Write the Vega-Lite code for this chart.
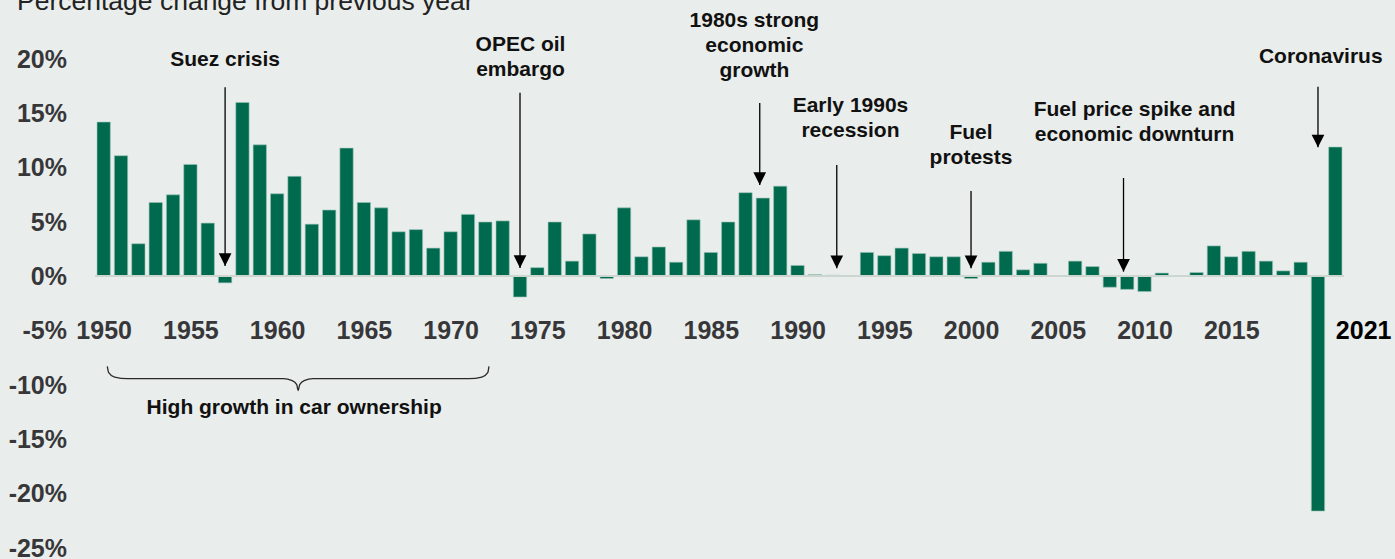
{
  "$schema": "https://vega.github.io/schema/vega-lite/v6.json",
  "width": 1259,
  "height": 489,
  "autosize": {"type": "none"},
  "padding": {"left": 90, "top": 59, "right": 46, "bottom": 11},
  "background": "#e9edeb",
  "title": {
    "text": "Percentage change from previous year",
    "anchor": "start",
    "frame": "group",
    "dx": -73,
    "dy": 26.5,
    "offset": 0,
    "fontSize": 26.5,
    "fontWeight": "normal",
    "font": "Liberation Sans",
    "color": "#222222",
    "baseline": "alphabetic"
  },
  "config": {"view": {"stroke": null}, "font": "Liberation Sans"},
  "datasets": {
    "bars": [
      {"year": 1950, "value": 14.2}, {"year": 1951, "value": 11.1}, {"year": 1952, "value": 3.0},
      {"year": 1953, "value": 6.8}, {"year": 1954, "value": 7.5}, {"year": 1955, "value": 10.3},
      {"year": 1956, "value": 4.9}, {"year": 1957, "value": -0.6}, {"year": 1958, "value": 16.0},
      {"year": 1959, "value": 12.1}, {"year": 1960, "value": 7.6}, {"year": 1961, "value": 9.2},
      {"year": 1962, "value": 4.8}, {"year": 1963, "value": 6.1}, {"year": 1964, "value": 11.8},
      {"year": 1965, "value": 6.8}, {"year": 1966, "value": 6.3}, {"year": 1967, "value": 4.1},
      {"year": 1968, "value": 4.3}, {"year": 1969, "value": 2.6}, {"year": 1970, "value": 4.1},
      {"year": 1971, "value": 5.7}, {"year": 1972, "value": 5.0}, {"year": 1973, "value": 5.1},
      {"year": 1974, "value": -1.9}, {"year": 1975, "value": 0.8}, {"year": 1976, "value": 5.0},
      {"year": 1977, "value": 1.4}, {"year": 1978, "value": 3.9}, {"year": 1979, "value": -0.2},
      {"year": 1980, "value": 6.3}, {"year": 1981, "value": 1.8}, {"year": 1982, "value": 2.7},
      {"year": 1983, "value": 1.3}, {"year": 1984, "value": 5.2}, {"year": 1985, "value": 2.2},
      {"year": 1986, "value": 5.0}, {"year": 1987, "value": 7.7}, {"year": 1988, "value": 7.2},
      {"year": 1989, "value": 8.3}, {"year": 1990, "value": 1.0}, {"year": 1991, "value": 0.15},
      {"year": 1992, "value": 0.1}, {"year": 1993, "value": 0.05}, {"year": 1994, "value": 2.2},
      {"year": 1995, "value": 1.9}, {"year": 1996, "value": 2.6}, {"year": 1997, "value": 2.1},
      {"year": 1998, "value": 1.8}, {"year": 1999, "value": 1.8}, {"year": 2000, "value": -0.2},
      {"year": 2001, "value": 1.3}, {"year": 2002, "value": 2.3}, {"year": 2003, "value": 0.6},
      {"year": 2004, "value": 1.2}, {"year": 2005, "value": 0.03}, {"year": 2006, "value": 1.4},
      {"year": 2007, "value": 0.9}, {"year": 2008, "value": -1.0}, {"year": 2009, "value": -1.2},
      {"year": 2010, "value": -1.4}, {"year": 2011, "value": 0.3}, {"year": 2012, "value": 0.03},
      {"year": 2013, "value": 0.35}, {"year": 2014, "value": 2.8}, {"year": 2015, "value": 1.8},
      {"year": 2016, "value": 2.3}, {"year": 2017, "value": 1.4}, {"year": 2018, "value": 0.5},
      {"year": 2019, "value": 1.3}, {"year": 2020, "value": -21.6}, {"year": 2021, "value": 11.9}
    ],
    "arrows": [
      {"year": 1957, "value": 17.4, "tip": 0.95},
      {"year": 1974, "value": 16.9, "tip": 0.77},
      {"year": 1987.82, "value": 15.95, "tip": 8.4},
      {"year": 1992.26, "value": 10.24, "tip": 0.74},
      {"year": 2000, "value": 7.85, "tip": 0.74},
      {"year": 2008.79, "value": 9.05, "tip": 0.43},
      {"year": 2020, "value": 17.45, "tip": 11.87}
    ],
    "annots": [
      {"label": "Suez crisis", "year": 1957.0, "value": 19.38},
      {"label": "OPEC oil\nembargo", "year": 1974.03, "value": 20.74},
      {"label": "1980s strong\neconomic\ngrowth", "year": 1987.51, "value": 22.97},
      {"label": "Early 1990s\nrecession", "year": 1993.05, "value": 15.12},
      {"label": "Fuel\nprotests", "year": 2000.0, "value": 12.6},
      {"label": "Fuel price spike and\neconomic downturn", "year": 2009.43, "value": 14.75},
      {"label": "Coronavirus", "year": 2020.16, "value": 19.59},
      {"label": "High growth in car ownership", "year": 1960.98, "value": -12.7}
    ],
    "brace": [
      {"year": 1950.21, "value": -8.29},
      {"year": 1950.29, "value": -8.87},
      {"year": 1950.63, "value": -9.28},
      {"year": 1951.37, "value": -9.42},
      {"year": 1960.35, "value": -9.42},
      {"year": 1960.87, "value": -9.6},
      {"year": 1961.13, "value": -9.97},
      {"year": 1961.21, "value": -10.52},
      {"year": 1961.3, "value": -9.97},
      {"year": 1961.56, "value": -9.6},
      {"year": 1962.07, "value": -9.42},
      {"year": 1971.05, "value": -9.42},
      {"year": 1971.8, "value": -9.28},
      {"year": 1972.14, "value": -8.87},
      {"year": 1972.21, "value": -8.29}
    ]
  },
  "encoding": {
    "x": {
      "field": "year",
      "type": "quantitative",
      "scale": {"domain": [1949.5, 2021.5], "nice": false, "zero": false},
      "axis": {
        "orient": "bottom",
        "offset": -218,
        "values": [1950, 1955, 1960, 1965, 1970, 1975, 1980, 1985, 1990, 1995, 2000, 2005, 2010, 2015, 2021],
        "format": "d",
        "labelFont": "Liberation Sans",
        "labelFontSize": 25,
        "labelFontWeight": "bold",
        "labelColor": {"condition": {"test": "datum.value == 2021", "value": "#000000"}, "value": "#37373a"},
        "labelAlign": {"condition": {"test": "datum.value == 2021", "value": "left"}, "value": "center"},
        "labelBaseline": "middle",
        "labelPadding": 0,
        "ticks": false,
        "tickSize": 0,
        "domain": false,
        "grid": false,
        "title": null,
        "labelFlush": false,
        "labelOverlap": false
      }
    },
    "y": {
      "field": "value",
      "type": "quantitative",
      "scale": {"domain": [-25, 20], "nice": false, "zero": false},
      "axis": {
        "values": [-25, -20, -15, -10, -5, 0, 5, 10, 15, 20],
        "labelExpr": "datum.value + '%'",
        "labelFont": "Liberation Sans",
        "labelFontSize": 25,
        "labelFontWeight": "bold",
        "labelColor": "#37373a",
        "labelPadding": 23.5,
        "labelBaseline": "middle",
        "ticks": false,
        "tickSize": 0,
        "domain": false,
        "grid": false,
        "title": null,
        "labelFlush": false,
        "labelOverlap": false
      }
    }
  },
  "layer": [
    {
      "data": {"name": "bars"},
      "mark": {"type": "bar", "orient": "vertical", "size": 13.3, "color": "#006a4f", "stroke": "#9cc6b8", "strokeWidth": 0.6},
      "encoding": {
        "y": {"field": "value", "type": "quantitative", "stack": null}
      }
    },
    {
      "data": {"name": "bars"},
      "mark": {"type": "rule", "color": "#cdd5d1", "strokeWidth": 1.5},
      "encoding": {
        "x": {"datum": 1949.5, "type": "quantitative"},
        "x2": {"datum": 2021.5},
        "y": {"datum": 0, "type": "quantitative"}
      }
    },
    {
      "data": {"name": "arrows"},
      "mark": {"type": "rule", "color": "#000000", "strokeWidth": 1.3},
      "encoding": {
        "y2": {"field": "tip"}
      }
    },
    {
      "data": {"name": "arrows"},
      "mark": {"type": "point", "shape": "M0,0L-1,-2L1,-2Z", "filled": true, "size": 161, "color": "#000000", "opacity": 1, "strokeWidth": 0},
      "encoding": {
        "y": {"field": "tip", "type": "quantitative"}
      }
    },
    {
      "data": {"name": "annots"},
      "mark": {"type": "text", "font": "Liberation Sans", "fontSize": 21, "fontWeight": "bold", "color": "#111111", "align": "center", "baseline": "alphabetic", "lineBreak": "\n", "lineHeight": 25},
      "encoding": {
        "text": {"field": "label"}
      }
    },
    {
      "data": {"name": "brace"},
      "mark": {"type": "line", "interpolate": "monotone", "color": "#2a2a2a", "strokeWidth": 1.3},
      "encoding": {}
    }
  ]
}
